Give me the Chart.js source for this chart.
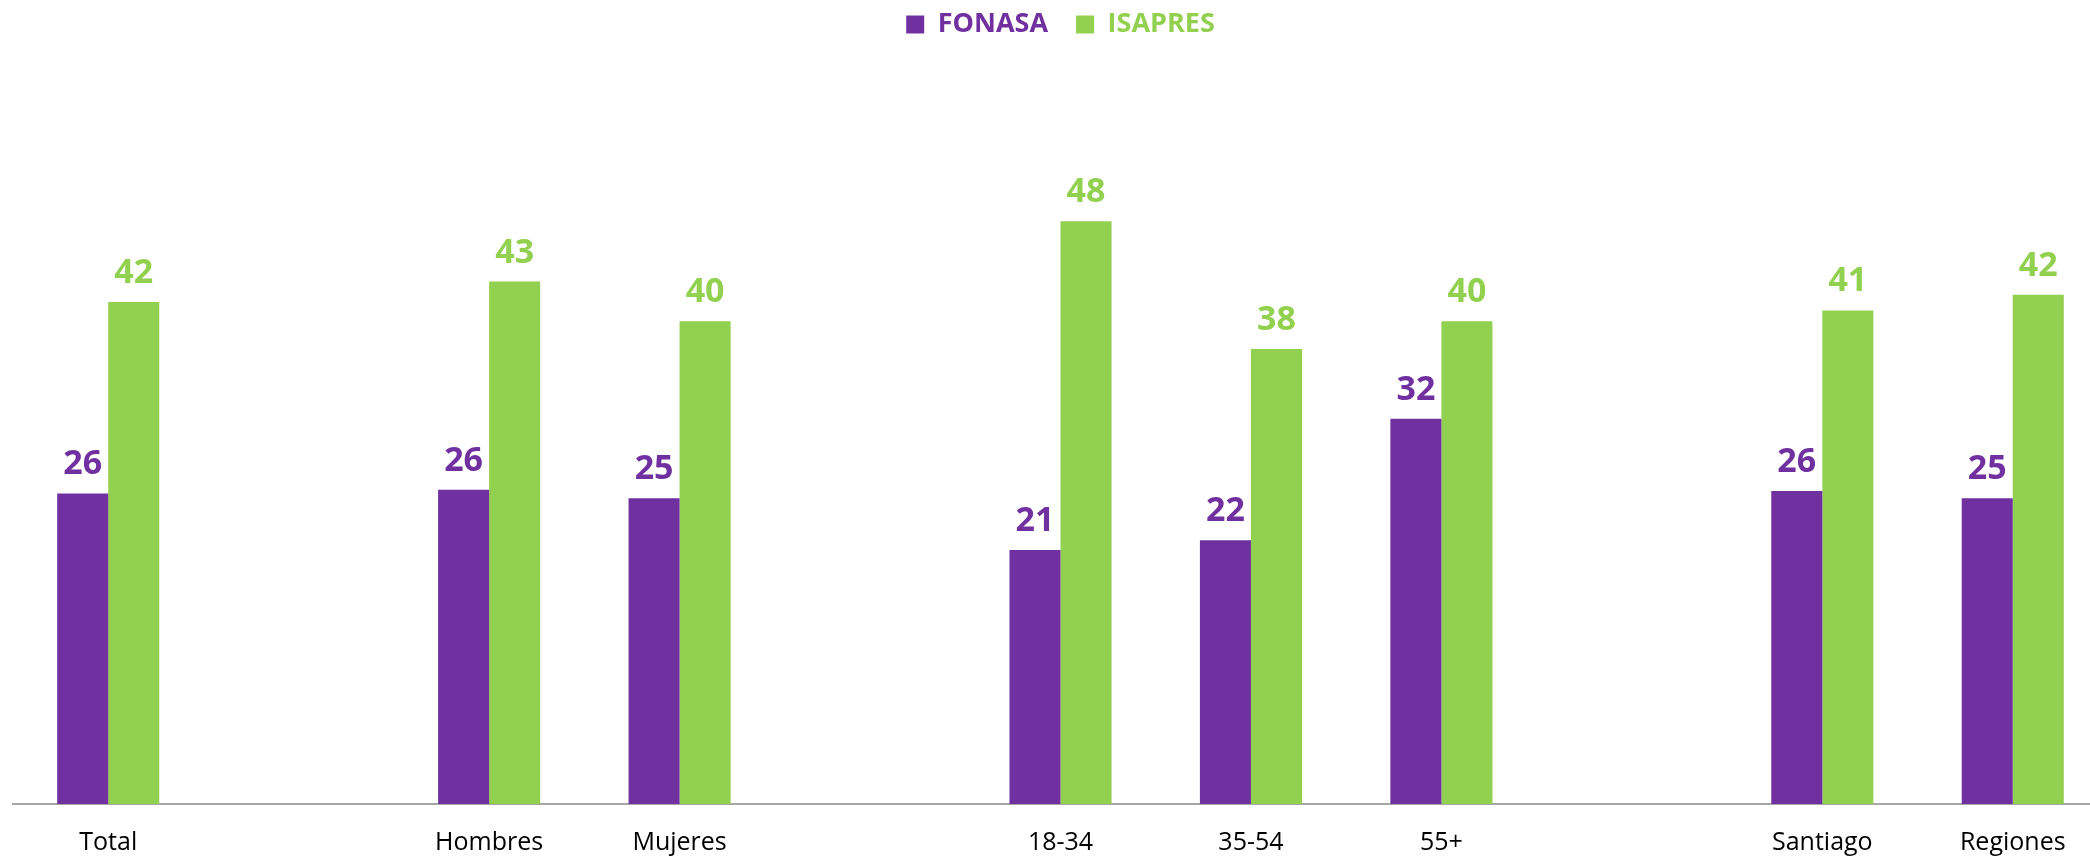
<!DOCTYPE html>
<html>
<head>
<meta charset="utf-8">
<script src="https://cdn.jsdelivr.net/npm/chart.js@4/dist/chart.umd.min.js"></script>
<style>
  html, body { margin: 0; padding: 0; background: #fff; overflow: hidden; }
  #wrap { width: 2108px; height: 883px; }
</style>
</head>
<body>
<div id="wrap"><canvas id="chart"></canvas></div>
<script>
// empty strings are the spacer slots between the groups
const categories = ['Total', '', 'Hombres', 'Mujeres', '', '18-34', '35-54', '55+', '', 'Santiago', 'Regiones'];
const fonasa = [25.8, null, 26.1, 25.4, null, 21.1, 21.9, 32.0, null, 26.0, 25.4];
const isapres = [41.7, null, 43.4, 40.1, null, 48.4, 37.8, 40.1, null, 41.0, 42.3];

const purple = '#7030A0';
const green = '#92D050';

// value labels above each bar
const barLabels = {
    id: 'barLabels',
    afterDatasetsDraw(chart) {
        const ctx = chart.ctx;
        ctx.save();
        ctx.font = 'bold 34px "Open Sans"';
        ctx.textAlign = 'center';
        ctx.textBaseline = 'alphabetic';
        chart.data.datasets.forEach((ds, i) => {
            chart.getDatasetMeta(i).data.forEach((bar, j) => {
                const v = ds.data[j];
                if (v == null) return;
                ctx.fillStyle = ds.backgroundColor;
                ctx.fillText(Math.round(v), bar.x, bar.y - 19);
            });
        });
        ctx.restore();
    }
};

new Chart(document.getElementById('chart'), {
    type: 'bar',
    data: {
        labels: categories,
        datasets: [
            { label: 'FONASA', data: fonasa, backgroundColor: purple },
            { label: 'ISAPRES', data: isapres, backgroundColor: green }
        ]
    },
    options: {
        responsive: true,
        maintainAspectRatio: false,
        animation: false,
        datasets: { bar: { categoryPercentage: 0.536, barPercentage: 1 } },
        layout: { padding: { left: 13, right: 0, top: -17, bottom: 1 } },
        plugins: {
            legend: {
                position: 'top',
                labels: {
                    boxWidth: 18,
                    boxHeight: 18,
                    padding: 28,
                    font: { family: '"Open Sans"', size: 27, weight: 'bold' },
                    generateLabels(chart) {
                        return chart.data.datasets.map((ds, i) => ({
                            text: ds.label,
                            fillStyle: ds.backgroundColor,
                            strokeStyle: ds.backgroundColor,
                            fontColor: ds.backgroundColor,
                            lineWidth: 0,
                            datasetIndex: i
                        }));
                    }
                }
            },
            tooltip: { enabled: false }
        },
        scales: {
            x: {
                grid: { display: false, drawTicks: false },
                border: { display: true, color: '#A6A6A6', width: 2 },
                ticks: {
                    padding: 24,
                    color: '#000',
                    autoSkip: false,
                    maxRotation: 0,
                    font: { family: '"Open Sans"', size: 25 }
                }
            },
            y: {
                display: false,
                min: 0,
                max: 62.8
            }
        }
    },
    plugins: [barLabels]
});
</script>
</body>
</html>
